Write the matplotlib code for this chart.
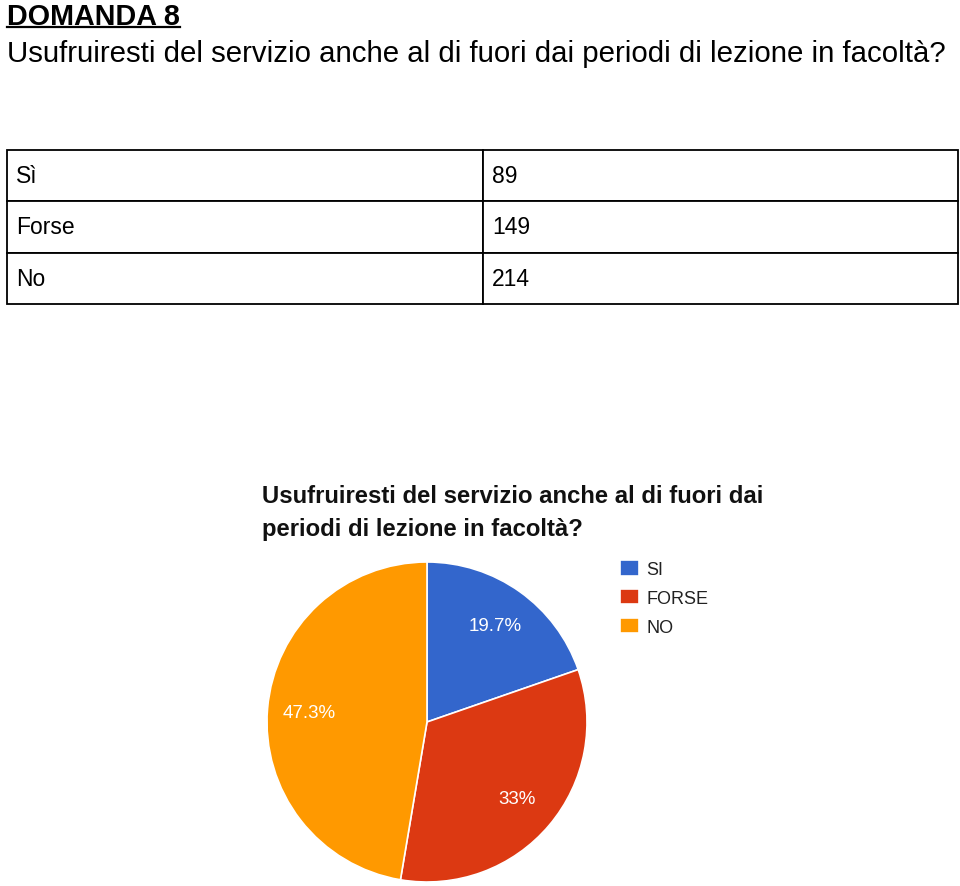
import matplotlib.pyplot as plt
from matplotlib.lines import Line2D

plt.rcParams['font.family'] = ['Liberation Sans', 'DejaVu Sans']

# dati della domanda
heading = 'DOMANDA 8'
question = 'Usufruiresti del servizio anche al di fuori dai periodi di lezione in facoltà?'
answers = ['Sì', 'Forse', 'No']
counts = [89, 149, 214]
legend_labels = ['SI', 'FORSE', 'NO']
pie_title = 'Usufruiresti del servizio anche al di fuori dai\nperiodi di lezione in facoltà?'
colors = ['#3366cc', '#dc3912', '#ff9900']

W, H = 960, 887


def fx(x):
    return x / W


def fy(y):
    return 1 - y / H


def pct_fmt(p):
    s = f'{p:.1f}'
    if s.endswith('.0'):
        s = s[:-2]
    return s + '%'


fig = plt.figure(figsize=(W / 100, H / 100), dpi=100)

# intestazione
t_head = fig.text(fx(7), fy(25), heading, fontsize=20.7, fontweight='bold',
                  va='baseline', ha='left')
fig.text(fx(7), fy(62), question, fontsize=21.2, va='baseline', ha='left')

fig.canvas.draw()
bb = t_head.get_window_extent()
fig.add_artist(Line2D([bb.x0 / W, bb.x1 / W], [fy(27.5), fy(27.5)],
                      transform=fig.transFigure, color='black', lw=1.6))

# tabella
ax_t = fig.add_axes([fx(7), fy(305), 951 / W, 154 / H])
ax_t.axis('off')
cell_text = [[a, str(c)] for a, c in zip(answers, counts)]
tab = ax_t.table(cellText=cell_text, bbox=[0, 0, 1, 1], cellLoc='left',
                 colWidths=[476 / 951, 475 / 951])
tab.auto_set_font_size(False)
for (r, c), cell in tab.get_celld().items():
    cell.PAD = 0.019
    cell.set_linewidth(1.3)
    cell.set_edgecolor('black')
    cell.get_text().set_fontsize(16.5)

# grafico a torta
ax_p = fig.add_axes([fx(267), fy(883), 320 / W, 320 / H])
wedges, texts, autotexts = ax_p.pie(
    counts, colors=colors, startangle=90, counterclock=False,
    autopct=pct_fmt, pctdistance=0.74, radius=1,
    wedgeprops=dict(edgecolor='white', linewidth=1.2),
    textprops=dict(color='white', fontsize=13.5))
ax_p.set_xlim(-1, 1)
ax_p.set_ylim(-1, 1)
ax_p.set_aspect('auto')

fig.text(fx(262), fy(536), pie_title, fontsize=17.2, fontweight='bold',
         va='baseline', ha='left', linespacing=1.55, color='#111111')

ax_p.legend(wedges, legend_labels, loc='upper left',
            bbox_to_anchor=(fx(620), fy(561)), bbox_transform=fig.transFigure,
            frameon=False, fontsize=13, handlelength=1.05, handleheight=0.95,
            handletextpad=0.4, borderpad=0, borderaxespad=0,
            labelspacing=0.6, labelcolor='#222222')

fig.savefig('out.png', dpi=100)
